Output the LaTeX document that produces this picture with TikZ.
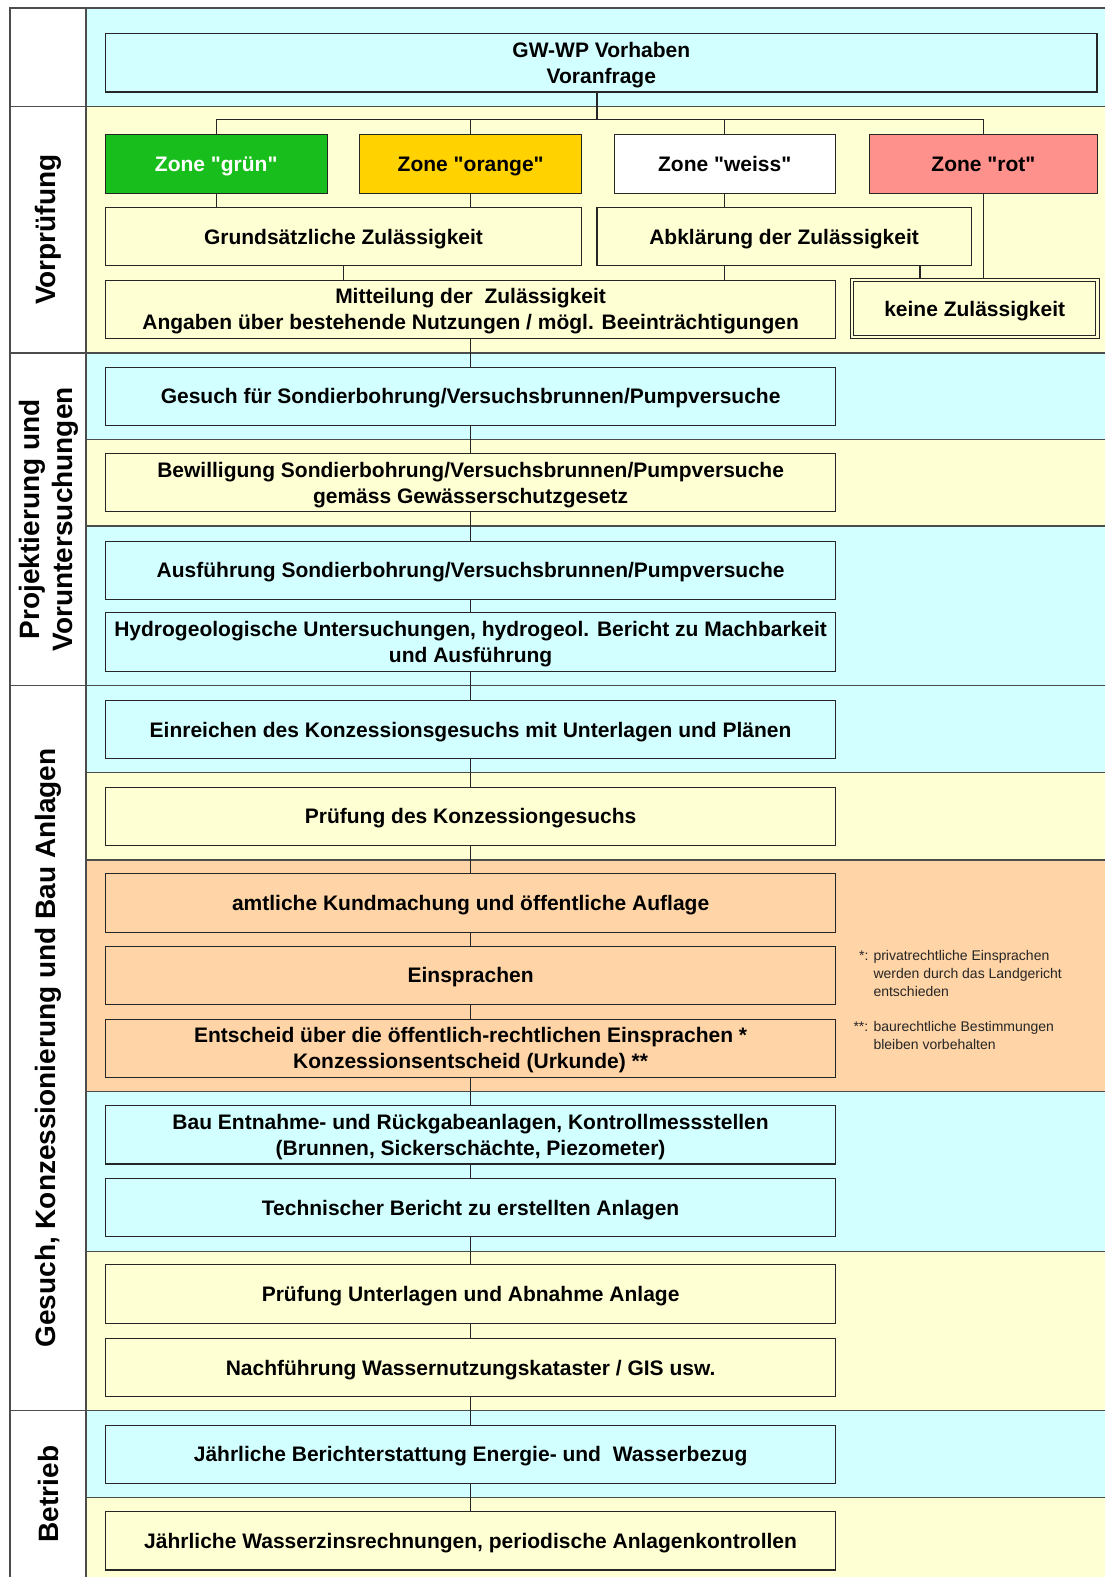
\documentclass[tikz,border=0pt]{standalone}
\usepackage{fontspec}
\setmainfont{Liberation Sans}[Ligatures=TeXOff]
\definecolor{cy}{RGB}{210,255,255}
\definecolor{yl}{RGB}{255,255,212}
\definecolor{pe}{RGB}{255,212,166}
\definecolor{zgreen}{RGB}{24,190,28}
\definecolor{zorange}{RGB}{255,210,0}
\definecolor{zred}{RGB}{255,145,140}
\begin{document}
\begin{tikzpicture}[x=1pt,y=-1pt,
  box/.style={draw=black!85, line width=1.1pt, inner sep=0pt, align=center, text depth=0pt,
    font=\fontsize{21}{26}\selectfont\bfseries, minimum height=58.3pt},
  mainbox/.style={box, minimum width=730pt},
  conn/.style={draw=black!85, line width=1.1pt},
  band/.style={draw=black!70, line width=1.4pt},
  lbl/.style={rotate=90, inner sep=0pt, font=\fontsize{28}{33}\selectfont\bfseries, align=center},
  fn/.style={font=\fontsize{14}{18}\selectfont, text=black!85, inner sep=0pt, anchor=base west}]
\useasboundingbox (0,0) rectangle (1105,1577);
\fill[white] (0,0) rectangle (1105,1577);
% bands
\fill[cy] (86,8) rectangle (1105,106.6);
\fill[yl] (86,106.6) rectangle (1105,353);
\fill[cy] (86,353) rectangle (1105,439.4);
\fill[yl] (86,439.4) rectangle (1105,525.9);
\fill[cy] (86,525.9) rectangle (1105,685.5);
\fill[cy] (86,685.5) rectangle (1105,772.5);
\fill[yl] (86,772.5) rectangle (1105,860);
\fill[pe] (86,860) rectangle (1105,1091.5);
\fill[cy] (86,1091.5) rectangle (1105,1251.5);
\fill[yl] (86,1251.5) rectangle (1105,1410.7);
\fill[cy] (86,1410.7) rectangle (1105,1497.5);
\fill[yl] (86,1497.5) rectangle (1105,1577);
% grid lines
\draw[band] (1105,8) -- (10,8) -- (10,1577);
\draw[band] (86,8) -- (86,1577);
\foreach \yy in {106.6,353,685.5,1410.7} \draw[band] (10,\yy) -- (1105,\yy);
\foreach \yy in {439.4,525.9,772.5,860,1091.5,1251.5,1497.5} \draw[band] (86,\yy) -- (1105,\yy);
% left labels
\node[lbl] (lv) at (48,229.8) {Vorprüfung};
\node[lbl] (lp) at (49,519.3) {Projektierung und\\Voruntersuchungen};
\node[lbl] (lg) at (48,1048) {Gesuch, Konzessionierung und Bau Anlagen};
\node[lbl] (lb) at (48,1494) {Betrieb};
% top part
\node[box, fill=cy, minimum width=991.4pt] (hdr) at (601.3,62.8) {GW-WP Vorhaben\\Voranfrage};
\node[box, fill=zgreen, text=white, minimum width=222pt, minimum height=59pt] (grn) at (216.2,163.8) {Zone "grün"};
\node[box, fill=zorange, minimum width=222pt, minimum height=59pt] (org) at (470.7,163.8) {Zone "orange"};
\node[box, fill=white, minimum width=221.3pt, minimum height=59pt] (wss) at (724.7,163.8) {Zone "weiss"};
\node[box, fill=zred, minimum width=227.3pt, minimum height=59pt] (rot) at (983.4,163.8) {Zone "rot"};
\node[box, fill=yl, minimum width=476.5pt] (grz) at (343.5,236.5) {Grundsätzliche Zulässigkeit};
\node[box, fill=yl, minimum width=374.2pt] (abk) at (784.1,236.5) {Abklärung der Zulässigkeit};
\node[mainbox, fill=yl] (mit) at (470.6,309.2) {Mitteilung der\ \ Zulässigkeit\\Angaben über bestehende Nutzungen / mögl. Beeinträchtigungen};
\node[box, fill=yl, line width=0.9pt, double=yl, double distance=2.4pt, minimum width=245.5pt, minimum height=57.5pt] (kein) at (974.7,308.5) {keine Zulässigkeit};
% connectors top
\coordinate (bar) at (597,119.3);
\coordinate (kx) at (920,0);
\draw[conn] (hdr.south -| bar) -- (bar);
\draw[conn] (grn.north) |- (bar) -| (rot.north);
\draw[conn] (org.north) -- (org.north |- bar);
\draw[conn] (wss.north) -- (wss.north |- bar);
\draw[conn] (grn.south) -- (grn.south |- grz.north);
\draw[conn] (org.south) -- (org.south |- grz.north);
\draw[conn] (wss.south) -- (wss.south |- abk.north);
\draw[conn] (rot.south) -- (rot.south |- kein.north);
\draw[conn] (grz.south) -- (grz.south |- mit.north);
\draw[conn] (wss.south |- abk.south) -- (wss.south |- mit.north);
\draw[conn] (abk.south -| kx) -- (kein.north -| kx);
% main chain
\node[mainbox, fill=cy] (b1) at (470.6,396.2) {Gesuch für Sondierbohrung/Versuchsbrunnen/Pumpversuche};
\node[mainbox, fill=yl] (b2) at (470.6,482.6) {Bewilligung Sondierbohrung/Versuchsbrunnen/Pumpversuche\\gemäss Gewässerschutzgesetz};
\node[mainbox, fill=cy] (b3) at (470.6,570.2) {Ausführung Sondierbohrung/Versuchsbrunnen/Pumpversuche};
\node[mainbox, fill=cy] (b4) at (470.6,642) {Hydrogeologische Untersuchungen, hydrogeol. Bericht zu Machbarkeit\\und Ausführung};
\node[mainbox, fill=cy] (b5) at (470.6,729.4) {Einreichen des Konzessionsgesuchs mit Unterlagen und Plänen};
\node[mainbox, fill=yl] (b6) at (470.6,816.2) {Prüfung des Konzessiongesuchs};
\node[mainbox, fill=pe] (b7) at (470.6,903) {amtliche Kundmachung und öffentliche Auflage};
\node[mainbox, fill=pe] (b8) at (470.6,975.3) {Einsprachen};
\node[mainbox, fill=pe] (b9) at (470.6,1048.2) {Entscheid über die öffentlich-rechtlichen Einsprachen *\\Konzessionsentscheid (Urkunde) **};
\node[mainbox, fill=cy] (b10) at (470.6,1134.8) {Bau Entnahme- und Rückgabeanlagen, Kontrollmessstellen\\(Brunnen, Sickerschächte, Piezometer)};
\node[mainbox, fill=cy] (b11) at (470.6,1207.5) {Technischer Bericht zu erstellten Anlagen};
\node[mainbox, fill=yl] (b12) at (470.6,1294) {Prüfung Unterlagen und Abnahme Anlage};
\node[mainbox, fill=yl] (b13) at (470.6,1367.5) {Nachführung Wassernutzungskataster / GIS usw.};
\node[mainbox, fill=cy] (b14) at (470.6,1454.2) {Jährliche Berichterstattung Energie- und\ \ Wasserbezug};
\node[mainbox, fill=yl] (b15) at (470.6,1540.8) {Jährliche Wasserzinsrechnungen, periodische Anlagenkontrollen};
\foreach \a/\b in {mit/b1,b1/b2,b2/b3,b3/b4,b4/b5,b5/b6,b6/b7,b7/b8,b8/b9,b9/b10,b10/b11,b11/b12,b12/b13,b13/b14,b14/b15}
  \draw[conn] (\a.south) -- (\b.north);
% footnotes
\node[fn] (f1m) at (859,960) {*:};
\node[fn] (f1) at (873.3,960) {\begin{tabular}[t]{@{}l@{}}privatrechtliche Einsprachen\\werden durch das Landgericht\\entschieden\end{tabular}};
\node[fn] (f2m) at (853.3,1031.7) {**:};
\node[fn] (f2) at (873.3,1031.7) {\begin{tabular}[t]{@{}l@{}}baurechtliche Bestimmungen\\bleiben vorbehalten\end{tabular}};
\end{tikzpicture}
\end{document}
